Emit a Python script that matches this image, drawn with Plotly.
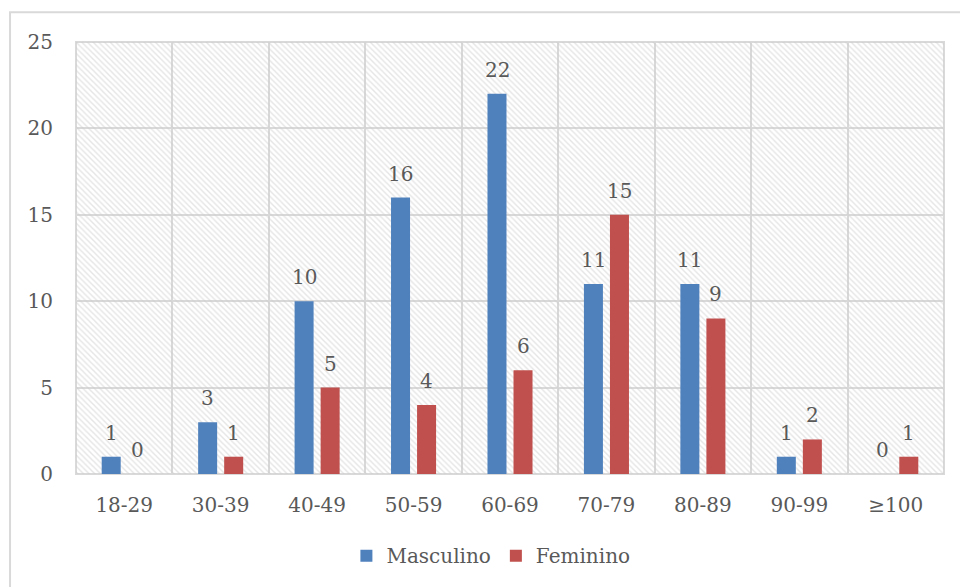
import plotly.graph_objects as go

# Age groups and counts per sex
faixas = ["18-29", "30-39", "40-49", "50-59", "60-69", "70-79", "80-89", "90-99", "≥100"]
masculino = [1, 3, 10, 16, 22, 11, 11, 1, 0]
feminino = [0, 1, 5, 4, 6, 15, 9, 2, 1]

Y_MAX = 25
AZUL = "#4f81bd"
VERMELHO = "#c0504d"
GRADE = "#d9d9d9"
TEXTO = "#595959"
FONTE = "DejaVu Serif"
TAM = 20

fig = go.Figure()

# Hatched background of the plot area (drawn on the linear base axes)
n = len(faixas)
fig.add_trace(go.Scatter(
    x=[0, n, n, 0, 0], y=[0, 0, Y_MAX, Y_MAX, 0],
    xaxis="x", yaxis="y",
    fill="toself", mode="none",
    fillcolor="rgba(0,0,0,0)",
    fillpattern=dict(shape="\\", fgcolor="#cccccc", bgcolor="rgba(0,0,0,0)",
                     size=4, solidity=0.35, fillmode="overlay"),
    showlegend=False, hoverinfo="skip",
))

series = [("Masculino", masculino, AZUL, -13), ("Feminino", feminino, VERMELHO, 13)]
for nome, valores, cor, dx in series:
    fig.add_trace(go.Bar(
        x=faixas, y=valores, name=nome,
        xaxis="x2", yaxis="y",
        marker=dict(color=cor, line=dict(width=0)),
    ))
    for cat, v in zip(faixas, valores):
        fig.add_annotation(
            x=cat, y=v, xref="x2", yref="y",
            text=str(v), showarrow=False,
            xshift=dx, yshift=24, yanchor="middle",
            font=dict(family=FONTE, size=TAM, color=TEXTO),
        )

fig.update_layout(
    width=960, height=587,
    margin=dict(l=76, r=16, t=42, b=111),
    paper_bgcolor="white", plot_bgcolor="white",
    barmode="group", bargap=0.46, bargroupgap=0.27,
    font=dict(family=FONTE, size=TAM, color=TEXTO),
    xaxis=dict(
        range=[0, n], dtick=1, tick0=0,
        showgrid=True, gridcolor=GRADE, gridwidth=2,
        showticklabels=False, zeroline=False, ticks="",
        fixedrange=True,
    ),
    xaxis2=dict(
        type="category", categoryorder="array", categoryarray=faixas,
        overlaying="x", side="bottom", range=[-0.5, n - 0.5],
        showgrid=False, zeroline=False, ticks="",
        tickfont=dict(family=FONTE, size=TAM, color=TEXTO),
        ticklabelstandoff=17,
    ),
    yaxis=dict(
        range=[0, Y_MAX], dtick=5,
        showgrid=True, gridcolor=GRADE, gridwidth=2,
        zeroline=False, ticks="",
        tickfont=dict(family=FONTE, size=TAM, color=TEXTO),
        ticklabelstandoff=22,
    ),
    legend=dict(
        orientation="h", x=0.478, xanchor="center",
        y=-0.189, yanchor="middle",
        font=dict(family=FONTE, size=TAM, color=TEXTO),
        itemwidth=30,
    ),
    shapes=[
        # plot-area frame
        dict(type="rect", xref="x domain", yref="y domain",
             x0=0, x1=1, y0=0, y1=1,
             line=dict(color=GRADE, width=2), layer="below"),
        # chart-area frame
        dict(type="rect", xref="paper", yref="paper",
             x0=-0.076, x1=1.03, y0=-0.3, y1=1.069,
             line=dict(color=GRADE, width=2), layer="below"),
    ],
)

fig.write_html("out.html")
